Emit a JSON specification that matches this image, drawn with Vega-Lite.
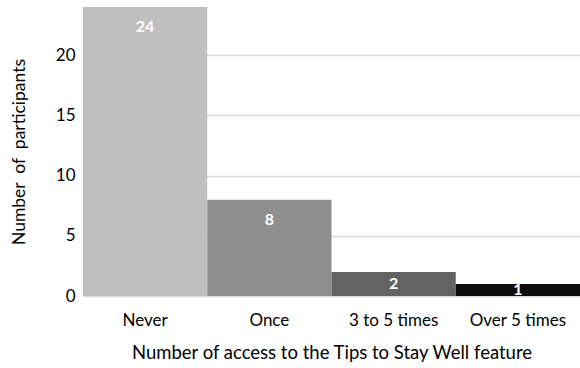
{
  "$schema": "https://vega.github.io/schema/vega-lite/v6.json",
  "width": 497,
  "height": 289,
  "autosize": {"type": "none"},
  "padding": {"left": 83, "top": 7, "right": 0, "bottom": 72},
  "background": "white",
  "config": {"view": {"stroke": null}, "font": "Lato"},
  "data": {"values": [
    {"category": "Never", "count": 24},
    {"category": "Once", "count": 8},
    {"category": "3 to 5 times", "count": 2},
    {"category": "Over 5 times", "count": 1}
  ]},
  "encoding": {
    "x": {"field": "category", "type": "nominal", "sort": null,
      "scale": {"paddingInner": 0, "paddingOuter": 0},
      "axis": {"title": "Number of access to the Tips to Stay Well feature", "labelAngle": 0,
        "labelFont": "Lato", "labelFontSize": 17, "labelColor": "#000", "labelPadding": 16,
        "titleFont": "Lato", "titleFontSize": 18.5, "titleFontWeight": "normal", "titleColor": "#000", "titlePadding": 15,
        "domain": false, "ticks": false}}
  },
  "layer": [
    {
      "mark": {"type": "bar"},
      "encoding": {
        "y": {"field": "count", "type": "quantitative", "scale": {"domain": [0, 24], "nice": false},
          "axis": {"title": "Number\u00a0 of\u00a0 participants", "values": [0, 5, 10, 15, 20],
            "labelFont": "Lato", "labelFontSize": 17, "labelColor": "#000", "labelPadding": 8,
            "titleFont": "Lato", "titleFontSize": 17.5, "titleFontWeight": "normal", "titleColor": "#000", "titlePadding": 27,
            "domain": false, "ticks": false, "gridColor": "#d9d9d9", "gridWidth": 1.5}},
        "color": {"field": "category", "type": "nominal", "sort": null, "legend": null,
          "scale": {"domain": ["Never", "Once", "3 to 5 times", "Over 5 times"], "range": ["#bfbfbf", "#8f8f8f", "#636363", "#0d0d0d"]}}
      }
    },
    {
      "transform": [{"filter": "datum.count >= 5"}],
      "mark": {"type": "text", "color": "white", "fontWeight": "bold", "fontSize": 16, "baseline": "middle", "dy": 20, "font": "Lato"},
      "encoding": {
        "y": {"field": "count", "type": "quantitative"},
        "text": {"field": "count", "type": "quantitative"}
      }
    },
    {
      "transform": [{"filter": "datum.count < 5"}, {"calculate": "datum.count / 2", "as": "mid"}],
      "mark": {"type": "text", "color": "white", "fontWeight": "bold", "fontSize": 16, "baseline": "middle", "font": "Lato"},
      "encoding": {
        "y": {"field": "mid", "type": "quantitative"},
        "text": {"field": "count", "type": "quantitative"}
      }
    }
  ]
}
